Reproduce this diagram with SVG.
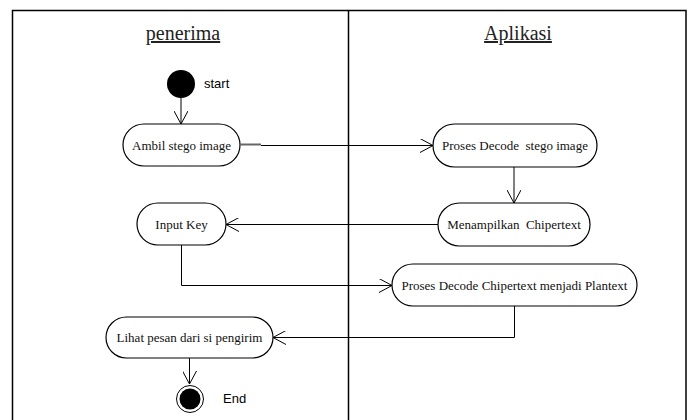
<svg xmlns="http://www.w3.org/2000/svg" width="690" height="420" viewBox="0 0 690 420">
  <style>
    .lane { fill: none; stroke: #000; stroke-width: 1.5; }
    .title { font-family: "Liberation Serif", "Times New Roman", serif; font-size: 20px; text-anchor: middle; text-decoration: underline; fill: #222; }
    .act rect { fill: #fff; stroke: #000; stroke-width: 1.2; }
    .act text { font-family: "Liberation Serif", "Times New Roman", serif; font-size: 13px; text-anchor: middle; dominant-baseline: central; fill: #111; }
    .lbl { font-family: "Liberation Sans", Arial, sans-serif; font-size: 13px; fill: #000; }
    .flow { fill: none; stroke: #000; stroke-width: 1; }
  </style>
  <defs>
    <marker id="open" viewBox="0 0 14 14" refX="13" refY="7" markerWidth="14" markerHeight="14" markerUnits="userSpaceOnUse" orient="auto">
      <path d="M0,0 L13,7 L0,14" fill="none" stroke="#000" stroke-width="1"/>
    </marker>
  </defs>

  <rect width="690" height="420" fill="#fff"/>

  <!-- swimlanes -->
  <g id="lanes">
    <path class="lane" d="M12.5,425 V10.5 H686 V425"/>
    <line class="lane" x1="348.5" y1="10.5" x2="348.5" y2="425"/>
    <text class="title" x="183" y="40">penerima</text>
    <text class="title" x="518" y="40">Aplikasi</text>
  </g>

  <!-- start / end -->
  <g id="start">
    <circle cx="181" cy="84" r="14" fill="#000"/>
    <text class="lbl" x="204" y="88">start</text>
  </g>
  <g id="end">
    <circle cx="190" cy="399" r="13.5" fill="#fff" stroke="#000" stroke-width="1"/>
    <circle cx="190" cy="399" r="10.5" fill="#000"/>
    <text class="lbl" x="223" y="403">End</text>
  </g>

  <!-- activities -->
  <g id="ambil" class="act">
    <rect x="123" y="124" width="117" height="42" rx="21"/>
    <text x="181.5" y="145">Ambil stego image</text>
  </g>
  <g id="proses-stego" class="act">
    <rect x="433" y="124" width="164" height="43" rx="21.5"/>
    <text x="515" y="145.5" xml:space="preserve">Proses Decode  stego image</text>
  </g>
  <g id="menampilkan" class="act">
    <rect x="438" y="203" width="152" height="43" rx="21.5"/>
    <text x="514" y="224.5" xml:space="preserve">Menampilkan  Chipertext</text>
  </g>
  <g id="input-key" class="act">
    <rect x="137" y="203" width="89" height="42" rx="21"/>
    <text x="181.5" y="224">Input Key</text>
  </g>
  <g id="proses-chiper" class="act">
    <rect x="392" y="264" width="245" height="42" rx="21"/>
    <text x="514.5" y="285">Proses Decode Chipertext menjadi Plantext</text>
  </g>
  <g id="lihat" class="act">
    <rect x="106" y="317" width="167" height="41" rx="20.5"/>
    <text x="189.5" y="337.5">Lihat pesan dari si pengirim</text>
  </g>

  <!-- control flows -->
  <g id="connectors">
    <line class="flow" x1="181" y1="98" x2="181" y2="124" marker-end="url(#open)"/>
    <line x1="240" y1="144.5" x2="261" y2="144.5" stroke="#666" stroke-width="2"/>
    <line class="flow" x1="261" y1="145.5" x2="433" y2="145.5" marker-end="url(#open)"/>
    <line class="flow" x1="514" y1="167" x2="514" y2="203" marker-end="url(#open)"/>
    <line class="flow" x1="438" y1="224.5" x2="226" y2="224.5" marker-end="url(#open)"/>
    <polyline class="flow" points="181.5,245 181.5,285.5 392,285.5" marker-end="url(#open)"/>
    <polyline class="flow" points="514.5,306 514.5,337.5 273,337.5" marker-end="url(#open)"/>
    <line class="flow" x1="189.5" y1="358" x2="189.5" y2="384" marker-end="url(#open)"/>
  </g>
</svg>
